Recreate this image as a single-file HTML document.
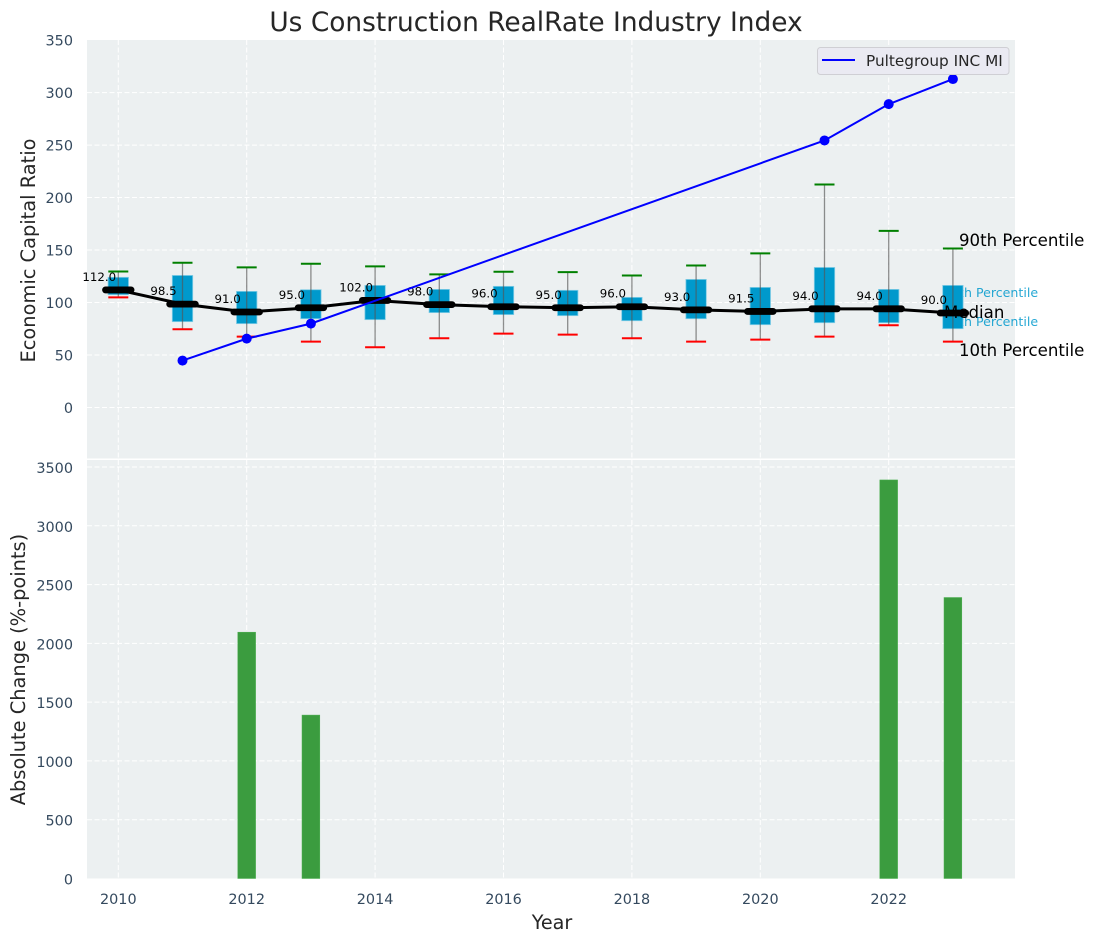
<!DOCTYPE html>
<html>
<head>
<meta charset="utf-8">
<title>Us Construction RealRate Industry Index</title>
<style>
html,body{margin:0;padding:0;background:#fff;width:1094px;height:942px;overflow:hidden}
svg{display:block}
text{font-family:"DejaVu Sans","Liberation Sans",sans-serif}
</style>
</head>
<body>
<svg id="chart" width="1094" height="942" viewBox="0 0 1094 942" xmlns="http://www.w3.org/2000/svg"></svg>
<script>
const years = [2010,2011,2012,2013,2014,2015,2016,2017,2018,2019,2020,2021,2022,2023];
const medianValues = [112,98.5,91,95,102,98,96,95,96,93,91.5,94,94,90];
const p90Values = [129.6,137.9,133.5,137,134.5,126.8,129.3,129,125.8,135.3,146.8,212.4,168.3,151.5];
const p10Values = [104.9,74.5,67.5,62.8,57.4,66,70.4,69.4,66,62.8,64.7,67.5,78.3,62.8];
const q3Values = [124,125.8,110.6,112.2,116.3,112.5,115.4,111.6,104.9,122,114.4,133.4,112.5,116.3];
const q1Values = [107.5,81.8,79.9,84.6,83.7,90.4,88.5,87.5,82.7,84.6,78.9,80.8,80.8,75.1];
const companyYears = [2011,2012,2013,2021,2022,2023];
const companyValues = [44.7,65.6,79.9,254.4,289,312.9];
const changeYears = [2012,2013,2022,2023];
const changeValues = [2095,1390,3390,2390];
const topTicks = [0,50,100,150,200,250,300,350];
const bottomTicks = [0,500,1000,1500,2000,2500,3000,3500];
const xTicks = [2010,2012,2014,2016,2018,2020,2022];

const NS = 'http://www.w3.org/2000/svg';
const svg = document.getElementById('chart');
const PL = 87, PR = 1015;
const x = v => 118.3 + (v - 2010) * 64.2;
const yTop = v => 407.5 - v * 1.0497;
const yBot = v => 878.5 - v * 0.11757;

function mk(tag, attrs, name, text) {
  const el = document.createElementNS(NS, tag);
  for (const k in attrs) el.setAttribute(k, attrs[k]);
  
  
  if (text !== undefined) el.textContent = text;
  svg.appendChild(el);
  return el;
}
function hline(x1, x2, y, stroke, w, name, extra) {
  return mk('line', Object.assign({x1:x1, x2:x2, y1:y, y2:y, stroke:stroke, 'stroke-width':w}, extra || {}), name);
}
const gridDash = {'stroke-dasharray':'5 2.5'};

// axes backgrounds
mk('rect', {x:PL, y:40, width:PR-PL, height:418.5, fill:'#ecf0f1'}, 'top-plot-background');
mk('rect', {x:PL, y:460, width:PR-PL, height:418.5, fill:'#ecf0f1'}, 'bottom-plot-background');

// grid
topTicks.forEach(t => {
  if (t < 350) hline(PL, PR, yTop(t), '#ffffff', 1, 'top-grid-y-' + t, gridDash);
  mk('text', {x:73, y:yTop(t)+5.3, 'text-anchor':'end', 'font-size':14.4, fill:'#34495e'}, 'top-y-tick-' + t, String(t));
});
bottomTicks.forEach(t => {
  if (t > 0) hline(PL, PR, yBot(t), '#ffffff', 1, 'bottom-grid-y-' + t, gridDash);
  mk('text', {x:73, y:yBot(t)+6, 'text-anchor':'end', 'font-size':14.4, fill:'#34495e'}, 'bottom-y-tick-' + t, String(t));
});
xTicks.forEach(t => {
  mk('line', Object.assign({x1:x(t), x2:x(t), y1:40, y2:458.5, stroke:'#ffffff', 'stroke-width':1}, gridDash), 'top-grid-x-' + t);
  mk('line', Object.assign({x1:x(t), x2:x(t), y1:460, y2:878.5, stroke:'#ffffff', 'stroke-width':1}, gridDash), 'bottom-grid-x-' + t);
  mk('text', {x:x(t), y:904, 'text-anchor':'middle', 'font-size':14.4, fill:'#34495e'}, 'x-tick-' + t, String(t));
});

// percentile side labels in box colour sit underneath the boxes
mk('text', {x:943, y:297, 'font-size':12.6, fill:'#0099cc', 'fill-opacity':0.85}, 'annotation-75th-percentile', '75th Percentile');
mk('text', {x:943, y:326, 'font-size':12.6, fill:'#0099cc', 'fill-opacity':0.85}, 'annotation-25th-percentile', '25th Percentile');

// boxes, whiskers and caps
years.forEach((yr, i) => {
  const cx = x(yr);
  mk('rect', {x:cx-10.2, y:yTop(q3Values[i]), width:20.4, height:yTop(q1Values[i])-yTop(q3Values[i]), fill:'#0099cc', stroke:'#7fcce5', 'stroke-width':0.8}, 'box-' + yr);
  mk('line', {x1:cx, x2:cx, y1:yTop(p90Values[i]), y2:yTop(p10Values[i]), stroke:'#555555', 'stroke-opacity':0.65, 'stroke-width':1.3}, 'whisker-' + yr);
  hline(cx-10, cx+10, yTop(p90Values[i]), '#008000', 2, 'p90-cap-' + yr);
  hline(cx-10, cx+10, yTop(p10Values[i]), '#ff0000', 2, 'p10-cap-' + yr);
});

// median line
mk('polyline', {points:years.map((yr,i) => x(yr)+','+yTop(medianValues[i])).join(' '), fill:'none', stroke:'#000000', 'stroke-width':3}, 'median-line');
years.forEach((yr, i) => {
  const cx = x(yr), my = yTop(medianValues[i]);
  hline(cx-12.8, cx+12.8, my, '#000000', 6.8, 'median-marker-' + yr, {'stroke-linecap':'round'});
  mk('text', {x:cx-19, y:my-9, 'text-anchor':'middle', 'font-size':11.8, fill:'#000000'}, 'median-label-' + yr, medianValues[i].toFixed(1));
});

// company line
mk('polyline', {points:companyYears.map((yr,i) => x(yr)+','+yTop(companyValues[i])).join(' '), fill:'none', stroke:'#0000ff', 'stroke-width':2}, 'pultegroup-line');
companyYears.forEach((yr, i) => {
  mk('circle', {cx:x(yr), cy:yTop(companyValues[i]), r:5, fill:'#0000ff'}, 'pultegroup-point-' + yr);
});

// annotations
mk('text', {x:959, y:246, 'font-size':16.6, fill:'#000000'}, 'annotation-90th-percentile', '90th Percentile');
mk('text', {x:944, y:318, 'font-size':16.6, fill:'#000000'}, 'annotation-median', 'Median');
mk('text', {x:959, y:356, 'font-size':16.6, fill:'#000000'}, 'annotation-10th-percentile', '10th Percentile');

// bars
changeYears.forEach((yr, i) => {
  mk('rect', {x:x(yr)-8.9, y:yBot(changeValues[i]), width:17.8, height:878.5-yBot(changeValues[i]), fill:'#3b9c3f', stroke:'#4caf50', 'stroke-width':0.5}, 'change-bar-' + yr);
});

// legend
mk('rect', {x:817.5, y:47.5, width:191.5, height:27, rx:3, fill:'#eaeaf2', stroke:'#cfcfd4', 'stroke-width':1}, 'legend-box');
hline(822, 855, 60, '#0000ff', 2, 'legend-line-sample');
mk('text', {x:866, y:66, 'font-size':15.3, fill:'#262626'}, 'legend-entry-pultegroup', 'Pultegroup INC MI');

// titles
mk('text', {x:536, y:31, 'text-anchor':'middle', 'font-size':26.4, fill:'#262626'}, 'chart-title', 'Us Construction RealRate Industry Index');
mk('text', {x:552, y:929, 'text-anchor':'middle', 'font-size':19.2, fill:'#262626'}, 'x-axis-title', 'Year');
mk('text', {x:0, y:0, transform:'translate(35,250.5) rotate(-90)', 'text-anchor':'middle', 'font-size':19.4, fill:'#262626'}, 'top-y-axis-title', 'Economic Capital Ratio');
mk('text', {x:0, y:0, transform:'translate(25,669.5) rotate(-90)', 'text-anchor':'middle', 'font-size':19.4, fill:'#262626'}, 'bottom-y-axis-title', 'Absolute Change (%-points)');
</script>
</body>
</html>
